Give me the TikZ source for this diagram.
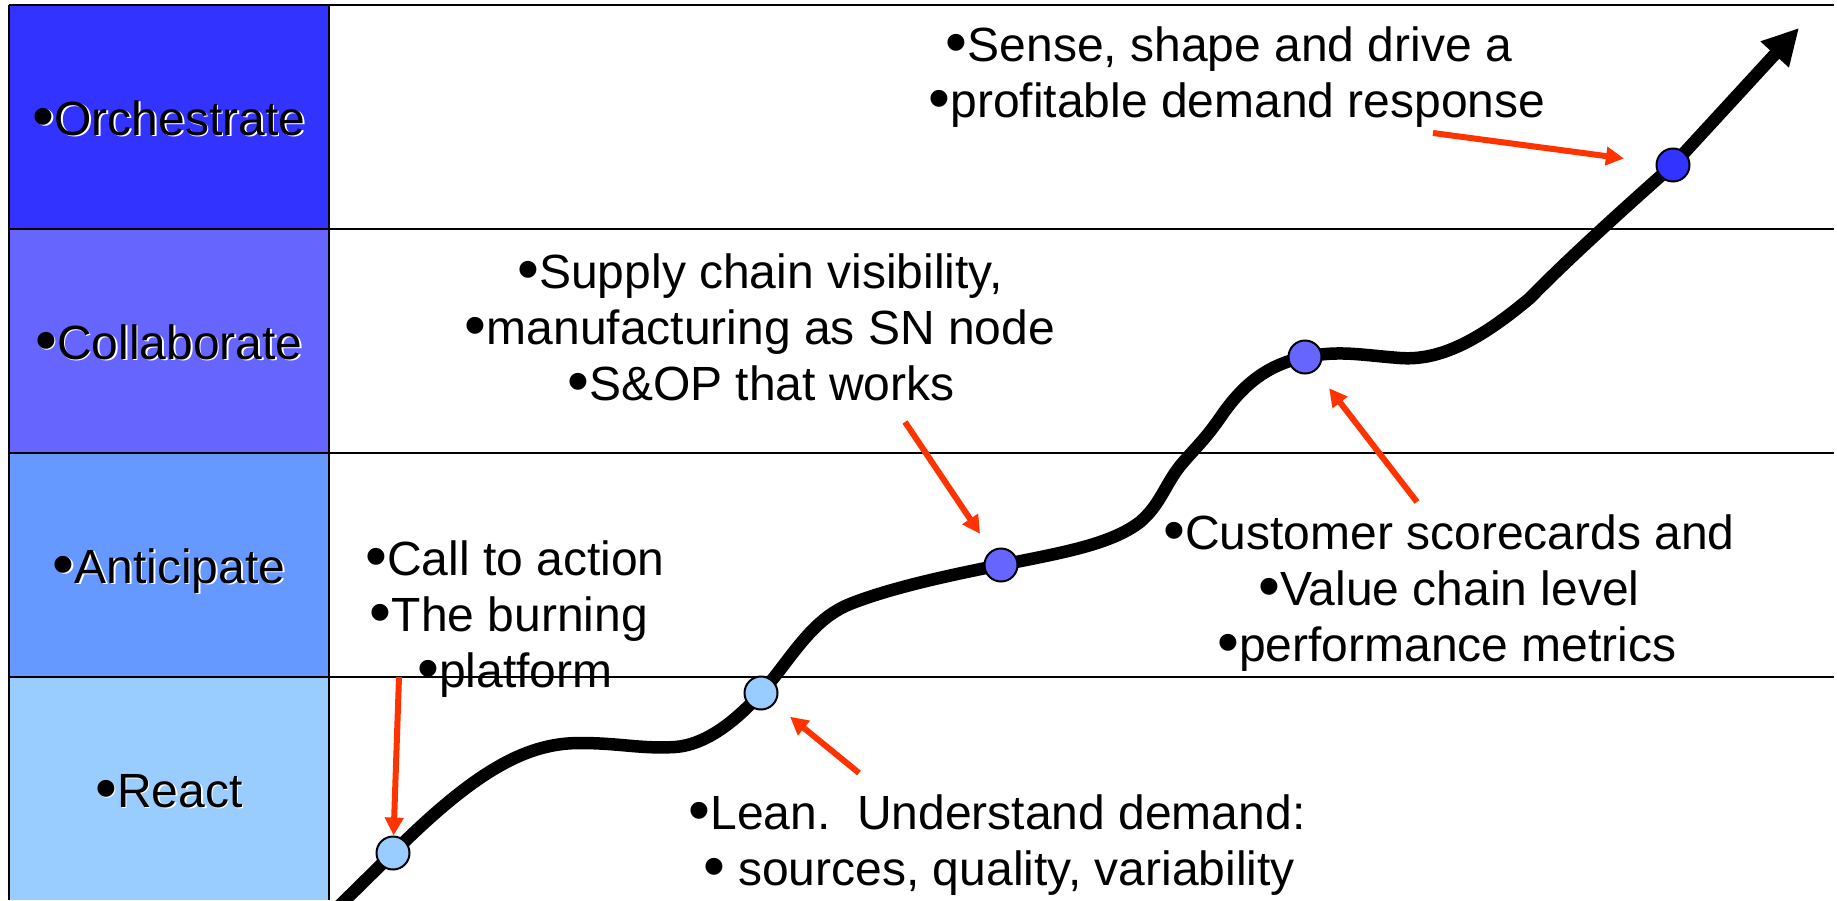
\documentclass[tikz,border=0pt]{standalone}
\usepackage{fontspec}
\usepackage{graphicx}
\setmainfont{Liberation Sans}
\usetikzlibrary{arrows.meta}
\definecolor{orchc}{HTML}{3333FF}
\definecolor{collabc}{HTML}{6666FF}
\definecolor{anticc}{HTML}{6699FF}
\definecolor{reactc}{HTML}{99CCFF}
\definecolor{redarrow}{HTML}{FF3300}
\newcommand{\bu}{\raisebox{-0.05em}{\scalebox{1.3}{•}}}
\begin{document}
\begin{tikzpicture}[x=0.5pt, y=-0.5pt,
  txt/.style={font=\fontsize{24}{28}\selectfont, inner sep=0pt, outer sep=0pt, anchor=base},
  lblshadow/.style={txt, text=white},
  gridline/.style={line width=0.85pt, black},
  mainline/.style={line width=6.25pt, black, -{Triangle[length=18pt,width=18pt]}},
  milestone/.style={circle, draw=black, line width=1pt, inner sep=0pt, minimum size=16.5pt},
  redpointer/.style={draw=redarrow, line width=3pt, -{Triangle[length=9pt,width=9pt]}},
]
\useasboundingbox (0,0) rectangle (1837,900);
% left column
\fill[orchc] (9,5) rectangle (329,229);
\fill[collabc] (9,229) rectangle (329,453);
\fill[anticc] (9,453) rectangle (329,677);
\fill[reactc] (9,677) rectangle (329,900);
% grid
\draw[gridline] (9,5) -- (1834,5);
\draw[gridline] (9,229) -- (1834,229);
\draw[gridline] (9,453) -- (1834,453);
\draw[gridline] (9,677) -- (1834,677);
\draw[gridline] (9,5) -- (9,900);
\draw[gridline] (329,5) -- (329,900);
% left labels with shadow
\node[lblshadow] (orchS) at (170.5,136.5) {\bu Orchestrate};
\node[txt] (orch) at (169,135) {\bu Orchestrate};
\node[lblshadow] (collabS) at (170.5,360.5) {\bu Collaborate};
\node[txt] (collab) at (169,359) {\bu Collaborate};
\node[lblshadow] (anticS) at (170.5,584.5) {\bu Anticipate};
\node[txt] (antic) at (169,583) {\bu Anticipate};
\node[lblshadow] (reactS) at (170.5,808.5) {\bu React};
\node[txt] (react) at (169,807) {\bu React};
% text blocks
\node[txt] (s1) at (1229,61) {\bu Sense, shape and drive a};
\node[txt] (s2) at (1237,117) {\bu profitable demand response};
\node[txt] (v1) at (760,288) {\bu Supply chain visibility,};
\node[txt] (v2) at (760,344) {\bu manufacturing as SN node};
\node[txt] (v3) at (761,400) {\bu S\&OP that works};
\node[txt] (c1t) at (515,575) {\bu Call to action};
\node[txt] (c2t) at (509,631) {\bu The burning};
\node[txt] (c3t) at (515,687) {\bu platform};
\node[txt] (m1) at (1449,549) {\bu Customer scorecards and};
\node[txt] (m2) at (1449,605) {\bu Value chain level};
\node[txt] (m3) at (1447,661) {\bu performance metrics};
\node[txt] (l1) at (997,829) {\bu Lean.\ \ Understand demand:};
\node[txt] (l2) at (999,885) {\bu\ sources, quality, variability};
% curve
\coordinate (p1) at (393,853);
\coordinate (p2) at (761,693);
\coordinate (p3) at (1001,565);
\coordinate (p4) at (1305,357);
\coordinate (p5) at (1673,165);
\coordinate (tip) at (1799,28);
\coordinate (start) at (330,915);
\begin{scope}
\clip (0,0) rectangle (1837,900);
\draw[mainline] (start) -- (p1)
  .. controls (480,766) and (530,743) .. (580,743)
  .. controls (620,743) and (640,749) .. (675,747)
  .. controls (705,745) and (735,722) .. (p2)
  .. controls (790,661) and (810,620) .. (850,604)
  .. controls (890,588) and (950,575) .. (p3)
  .. controls (1060,553) and (1110,545) .. (1140,522)
  .. controls (1160,505) and (1165,485) .. (1180,466)
  .. controls (1195,448) and (1205,440) .. (1222,415)
  .. controls (1245,382) and (1270,364) .. (p4)
  .. controls (1340,350) and (1360,355) .. (1400,358)
  .. controls (1440,361) and (1480,340) .. (1530,298)
  .. controls (1565,262) and (1620,212) .. (p5)
  -- (tip);
\end{scope}
\node[milestone, fill=reactc] (c1) at (p1) {};
\node[milestone, fill=reactc] (c2) at (p2) {};
\node[milestone, fill=collabc] (c3) at (p3) {};
\node[milestone, fill=collabc] (c4) at (p4) {};
\node[milestone, fill=orchc] (c5) at (p5) {};
% red pointers
\coordinate (a1) at (399,677);
\coordinate (a2) at (859,773);
\coordinate (a3) at (905,422);
\coordinate (a4) at (1417,502);
\coordinate (a5) at (1433,133);
\draw[redpointer] (a1) -- (c1);
\draw[redpointer, shorten >=10pt] (a2) -- (c2);
\draw[redpointer, shorten >=10pt] (a3) -- (c3);
\draw[redpointer, shorten >=11pt] (a4) -- (c4);
\draw[redpointer, shorten >=16pt] (a5) -- (c5);
\end{tikzpicture}
\end{document}
